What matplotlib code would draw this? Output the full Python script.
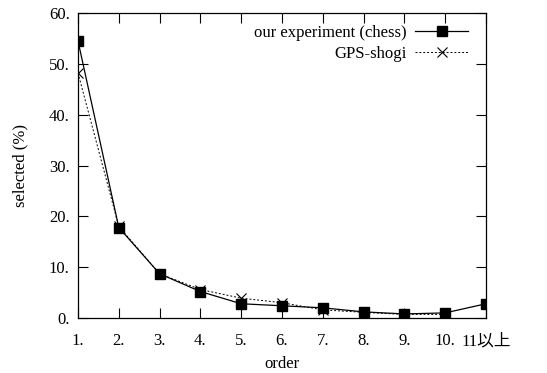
import matplotlib
matplotlib.use('Agg')
import matplotlib.pyplot as plt

# data
order = [1, 2, 3, 4, 5, 6, 7, 8, 9, 10, 11]
xticklabels = ['1.', '2.', '3.', '4.', '5.', '6.', '7.', '8.', '9.', '10.', '11以上']
chess = [54.5, 17.8, 8.7, 5.2, 2.8, 2.4, 2.0, 1.2, 0.8, 1.0, 2.8]
gps_order = [1, 2, 3, 4, 5, 6, 7, 8, 9, 10]
gps = [48.2, 18.0, 8.7, 5.6, 3.9, 3.0, 1.6, 1.1, 0.7, 0.7]
yticks = [0, 10, 20, 30, 40, 50, 60]

plt.rcParams['font.family'] = ['Liberation Serif', 'Noto Sans CJK JP']
plt.rcParams['font.size'] = 12

fig = plt.figure(figsize=(5.47, 3.73), dpi=100)
ax = fig.add_axes([0.1426, 0.1475, 0.8885 - 0.1426, 0.9651 - 0.1475])

ax.plot(order, chess, '-', color='black', lw=0.9, marker='s', ms=7,
        label='our experiment (chess)')
ax.plot(gps_order, gps, color='black', lw=0.7, ls=(0, (2, 2)), marker='x', ms=7,
        mew=0.8, label='GPS-shogi')

ax.set_xlim(1, 11)
ax.set_ylim(0, 60)
ax.set_xticks(order)
ax.set_xticklabels(xticklabels)
ax.set_yticks(yticks)
ax.set_yticklabels([f'{v}.' for v in yticks])
ax.tick_params(axis='x', direction='in', top=True, length=7, width=0.8, pad=11)
ax.tick_params(axis='y', direction='in', right=True, length=7, width=0.8, pad=6)
for s in ax.spines.values():
    s.set_linewidth(0.9)

ax.set_xlabel('order', labelpad=5)
ax.set_ylabel('selected (%)', labelpad=15)

ax.legend(loc='upper right', frameon=False, markerfirst=False, handlelength=3.2,
          borderaxespad=0.3, labelspacing=0.3, handletextpad=0.5,
          bbox_to_anchor=(0.985, 1.0))

fig.savefig('out.png', dpi=100)
